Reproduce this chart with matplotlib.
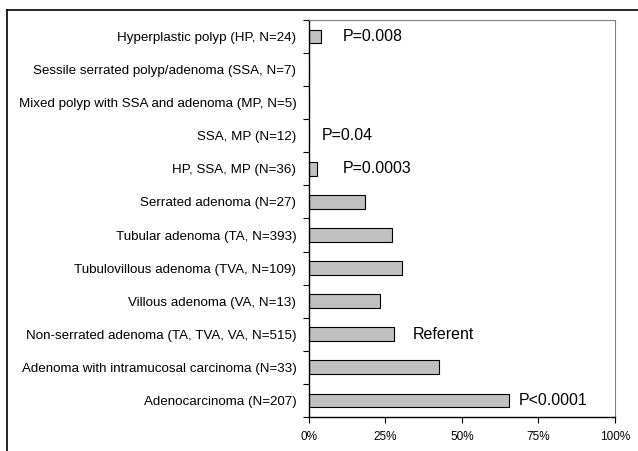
import matplotlib.pyplot as plt
import numpy as np
from matplotlib.lines import Line2D

plt.rcParams['font.family'] = ['Liberation Sans', 'DejaVu Sans']

# categories, top to bottom
labels = [
    'Hyperplastic polyp (HP, N=24)',
    'Sessile serrated polyp/adenoma (SSA, N=7)',
    'Mixed polyp with SSA and adenoma (MP, N=5)',
    'SSA, MP (N=12)',
    'HP, SSA, MP (N=36)',
    'Serrated adenoma (N=27)',
    'Tubular adenoma (TA, N=393)',
    'Tubulovillous adenoma (TVA, N=109)',
    'Villous adenoma (VA, N=13)',
    'Non-serrated adenoma (TA, TVA, VA, N=515)',
    'Adenoma with intramucosal carcinoma (N=33)',
    'Adenocarcinoma (N=207)',
]
# percent
values = [4.0, 0, 0, 0, 2.5, 18.3, 27.0, 30.5, 23.2, 27.8, 42.6, 65.5]

# annotations: (row, x position in %, text)
notes_row = [0, 3, 4, 9, 11]
notes_x = [11.0, 4.3, 11.0, 34.0, 68.6]
notes_txt = ['P=0.008', 'P=0.04', 'P=0.0003', 'Referent', 'P<0.0001']

xticks = [0, 25, 50, 75, 100]

fig = plt.figure(figsize=(6.38, 4.51), dpi=100)
ax = fig.add_axes([0.4843, 0.0754, 0.4796, 0.8803])

y = np.arange(len(labels))
ax.barh(y, values, height=0.42, color='#c0c0c0', edgecolor='black', linewidth=0.8)

for r, xx, t in zip(notes_row, notes_x, notes_txt):
    ax.text(xx, r, t, fontsize=11.5, va='center', ha='left')

ax.set_xlim(0, 100)
ax.set_ylim(len(labels) - 0.5, -0.5)
ax.set_xticks(xticks)
ax.set_xticklabels([f'{v}%' for v in xticks], fontsize=8.5)
ax.set_yticks(y)
ax.set_yticklabels(labels, fontsize=9.6)
ax.set_yticks(np.arange(len(labels) + 1) - 0.5, minor=True)
ax.tick_params(axis='y', which='major', length=0, pad=9)
ax.tick_params(axis='y', which='minor', length=4, width=0.8)
ax.tick_params(axis='x', length=4, width=0.8, pad=6)

ax.spines['top'].set_color('#808080')
ax.spines['right'].set_color('#808080')
ax.spines['left'].set_linewidth(1.0)
ax.spines['bottom'].set_linewidth(1.0)

# outer frame (left and top edges visible)
fig.add_artist(Line2D([7 / 638, 7 / 638], [0, 1 - 10 / 451], transform=fig.transFigure, color='black', lw=1.2))
fig.add_artist(Line2D([7 / 638, 1], [1 - 10 / 451, 1 - 10 / 451], transform=fig.transFigure, color='black', lw=1.2))

fig.savefig('out.png', dpi=100)
